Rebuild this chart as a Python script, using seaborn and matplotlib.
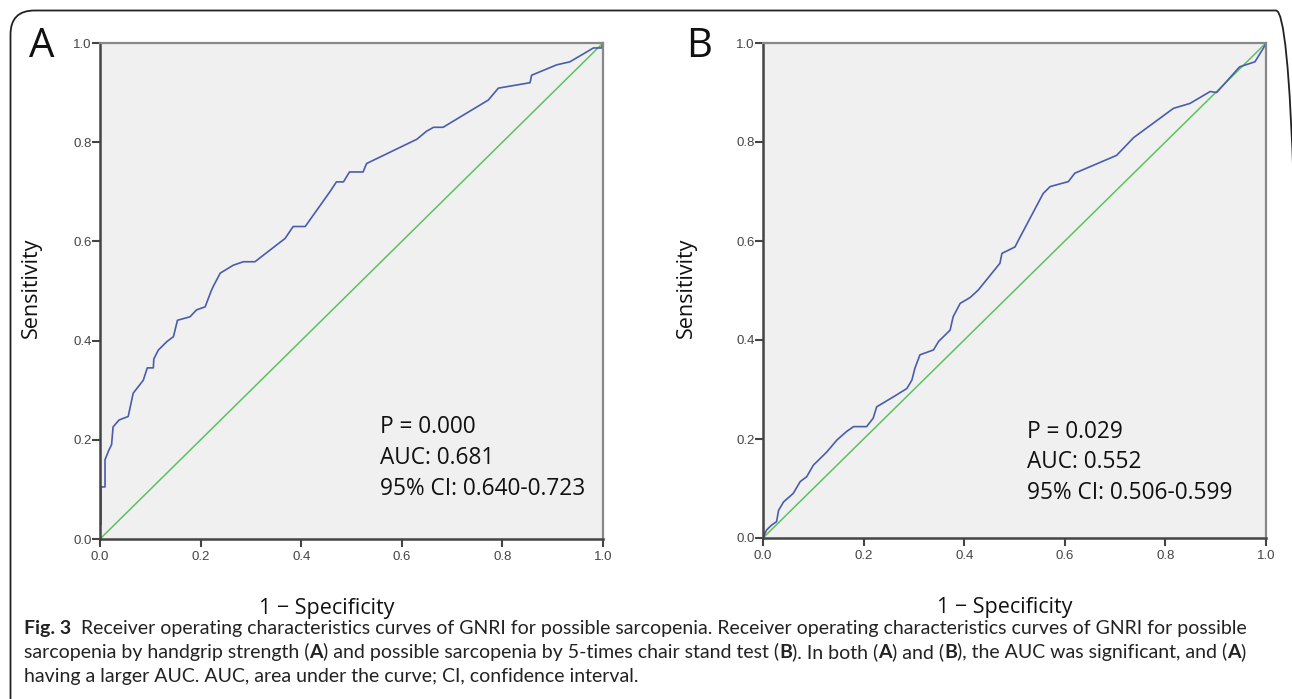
import matplotlib
matplotlib.use("Agg")
import matplotlib.pyplot as plt
import seaborn as sns
from matplotlib.patches import FancyBboxPatch
from matplotlib.transforms import IdentityTransform

# --- data (1 - specificity, sensitivity) ---
fpr_a = [0.0, 0.0, 0.002, 0.002, 0.010, 0.010, 0.018, 0.023, 0.026, 0.038, 0.056,
         0.066, 0.086, 0.094, 0.106, 0.107, 0.116, 0.133, 0.146, 0.154, 0.179,
         0.192, 0.209, 0.221, 0.225, 0.239, 0.265, 0.285, 0.308, 0.368, 0.384,
         0.408, 0.457, 0.470, 0.484, 0.496, 0.523, 0.530, 0.630, 0.649, 0.663,
         0.682, 0.772, 0.792, 0.855, 0.858, 0.908, 0.934, 0.981, 0.997, 1.0]
tpr_a = [0.0, 0.030, 0.030, 0.105, 0.105, 0.160, 0.180, 0.190, 0.226, 0.240, 0.247,
         0.294, 0.320, 0.345, 0.345, 0.363, 0.381, 0.398, 0.408, 0.441, 0.448,
         0.462, 0.468, 0.500, 0.509, 0.536, 0.552, 0.559, 0.559, 0.606, 0.630,
         0.630, 0.700, 0.720, 0.720, 0.740, 0.740, 0.757, 0.806, 0.822, 0.830,
         0.830, 0.885, 0.909, 0.920, 0.935, 0.956, 0.962, 0.990, 0.990, 1.0]

fpr_b = [0.0, 0.007, 0.017, 0.027, 0.031, 0.041, 0.060, 0.074, 0.087, 0.100, 0.127,
         0.147, 0.166, 0.180, 0.206, 0.219, 0.226, 0.259, 0.286, 0.296, 0.302,
         0.312, 0.339, 0.349, 0.372, 0.378, 0.392, 0.412, 0.428, 0.471, 0.475,
         0.501, 0.508, 0.557, 0.571, 0.607, 0.620, 0.703, 0.737, 0.816, 0.849,
         0.889, 0.902, 0.945, 0.948, 0.978, 0.995, 1.0]
tpr_b = [0.0, 0.016, 0.026, 0.033, 0.056, 0.073, 0.090, 0.114, 0.124, 0.147, 0.174,
         0.198, 0.215, 0.225, 0.225, 0.242, 0.265, 0.285, 0.302, 0.319, 0.343,
         0.370, 0.380, 0.397, 0.420, 0.447, 0.474, 0.486, 0.501, 0.555, 0.575,
         0.588, 0.602, 0.696, 0.710, 0.720, 0.737, 0.773, 0.809, 0.868, 0.878,
         0.902, 0.900, 0.949, 0.952, 0.962, 0.990, 1.0]

ref_line = [0.0, 1.0]
ticks = [0.0, 0.2, 0.4, 0.6, 0.8, 1.0]
tick_labels = ["0.0", "0.2", "0.4", "0.6", "0.8", "1.0"]

panels = ["A", "B"]
stats = [["P = 0.000", "AUC: 0.681", "95% CI: 0.640-0.723"],
         ["P = 0.029", "AUC: 0.552", "95% CI: 0.506-0.599"]]

sns.set_theme(style="ticks")
plt.rcParams["font.family"] = ["Open Sans", "DejaVu Sans"]

W, H = 1292, 699
fig = plt.figure(figsize=(W / 100, H / 100), dpi=100)

# rounded frame around figure + caption (right/bottom run off the page), pixel coords
frame = FancyBboxPatch((10.5, -60), W + 8 - 10.5, H - 10.5 + 60,
                       boxstyle="round,pad=0,rounding_size=24",
                       transform=IdentityTransform(), fill=False,
                       edgecolor="#222222", linewidth=1.3)
fig.patches.append(frame)

# axes in pixel positions
axes_px = [(100, 43, 603, 539), (763, 43, 1266, 538)]
curves = [(fpr_a, tpr_a), (fpr_b, tpr_b)]
text_pos = [(0.557, 0.214), (0.524, 0.203)]
xlabel_x = [0.451, 0.481]
ylabel_x = [-0.115, -0.131]
letter_px = [(29, 57), (686, 57)]

for i in range(2):
    l, t, r, b = axes_px[i]
    ax = fig.add_axes([l / W, 1 - b / H, (r - l) / W, (b - t) / H])
    ax.set_facecolor("#f0f0f0")
    fx, ty = curves[i]
    sns.lineplot(x=ref_line, y=ref_line, ax=ax, color="#5cc261", linewidth=1.1,
                 sort=False, estimator=None)
    sns.lineplot(x=fx, y=ty, ax=ax, color="#4a5cae", linewidth=1.2,
                 sort=False, estimator=None)
    ax.set_xlim(0, 1)
    ax.set_ylim(0, 1)
    ax.set_xticks(ticks)
    ax.set_yticks(ticks)
    ax.set_xticklabels(tick_labels, family="Liberation Sans", fontsize=9.5, color="#444444")
    ax.set_yticklabels(tick_labels, family="Liberation Sans", fontsize=9.5, color="#444444")
    ax.tick_params(axis="both", direction="out", length=5.5, width=1.5, color="#444444")
    ax.tick_params(axis="x", pad=3)
    ax.tick_params(axis="y", pad=0.5)
    for side in ["left", "bottom"]:
        ax.spines[side].set_color("#444444")
        ax.spines[side].set_linewidth(1.8)
    for side in ["top", "right"]:
        ax.spines[side].set_color("#888888")
        ax.spines[side].set_linewidth(1.6)
    ax.set_xlabel("1 \u2212 Specificity", fontsize=15.5, color="#111111")
    ax.set_ylabel("Sensitivity", fontsize=15.5, color="#111111")
    ax.xaxis.set_label_coords(xlabel_x[i], -0.119)
    ax.yaxis.set_label_coords(ylabel_x[i], 0.506)
    tx, tyy = text_pos[i]
    for k, s in enumerate(stats[i]):
        ax.text(tx, tyy - k * 0.0625, s, fontsize=16.3, color="#111111",
                ha="left", va="baseline", transform=ax.transAxes)
    lx, ly = letter_px[i]
    fig.text(lx, H - ly, panels[i], fontsize=29, color="#111111",
             transform=IdentityTransform(), ha="left", va="baseline")

# caption with bold runs
cap_font = ["Lato", "DejaVu Sans"]
cap_size = 14.0
caption_lines = [
    [("Fig. 3", True), ("  Receiver operating characteristics curves of GNRI for possible sarcopenia. "
                         "Receiver operating characteristics curves of GNRI for possible", False)],
    [("sarcopenia by handgrip strength (", False), ("A", True),
     (") and possible sarcopenia by 5-times chair stand test (", False), ("B", True),
     ("). In both (", False), ("A", True), (") and (", False), ("B", True),
     ("), the AUC was significant, and (", False), ("A", True), (")", False)],
    [("having a larger AUC. AUC, area under the curve; CI, confidence interval.", False)],
]
baselines = [634, 658, 682]

renderer = fig.canvas.get_renderer()
for line, yb in zip(caption_lines, baselines):
    x = 24
    for s, bold in line:
        lead = len(s) - len(s.lstrip(" "))
        if lead:
            x += 5 * lead
            s = s.lstrip(" ")
        txt = fig.text(x, H - yb, s, fontsize=cap_size, family=cap_font,
                       fontweight="bold" if bold else "normal", color="#222222",
                       transform=IdentityTransform(), ha="left", va="baseline")
        x += txt.get_window_extent(renderer).width

fig.savefig("out.png", dpi=100)
